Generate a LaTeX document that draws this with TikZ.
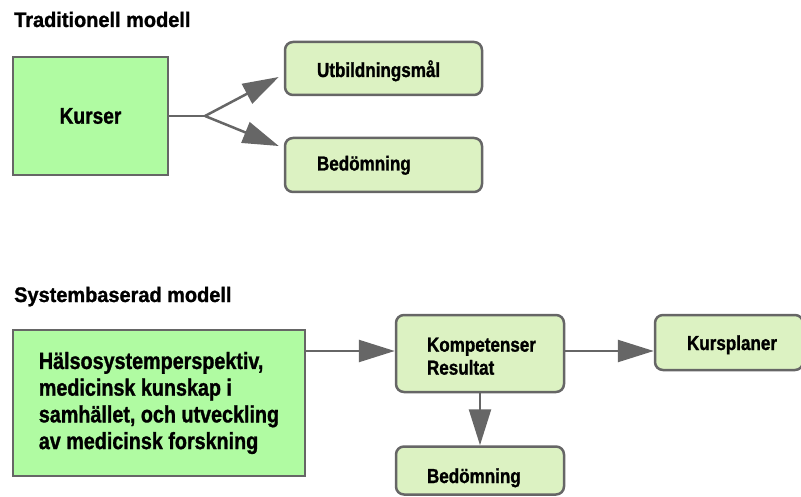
\documentclass[tikz,border=0pt]{standalone}
\usepackage{fontspec}
\usetikzlibrary{arrows.meta,calc}
\newfontfamily\bxfont[FakeStretch=0.84, BoldFeatures={FakeBold=1.2}]{Liberation Sans}
\newfontfamily\ttlfont[FakeStretch=0.95, BoldFeatures={FakeBold=1.2}]{Liberation Sans}
\definecolor{edgegray}{HTML}{666666}
\definecolor{bigfill}{HTML}{B0FBA2}
\definecolor{smallfill}{HTML}{DCF2C2}
\tikzset{
  boxline/.style={draw=edgegray, line width=2.5pt},
  bigbox/.style={boxline, fill=bigfill, rectangle, inner sep=0pt},
  smallbox/.style={boxline, fill=smallfill, rounded corners=8pt, inner sep=0pt,
     font=\bxfont\bfseries\fontsize{20.3}{23}\selectfont, align=left},
  titletext/.style={font=\ttlfont\bfseries\fontsize{21}{24}\selectfont, anchor=base west, inner sep=0pt},
  arr/.style={draw=edgegray, line width=2.5pt, -{Triangle[length=36pt,width=22pt]}},
  conn/.style={draw=edgegray, line width=2.5pt}
}
\begin{document}
\begin{tikzpicture}[x=1pt,y=-1pt]
\useasboundingbox (0,0) rectangle (801,497);
% top section
\node[titletext] (t1) at (14,27) {Traditionell modell};
\node[bigbox, minimum width=155pt, minimum height=118pt,
      font=\bxfont\bfseries\fontsize{22.8}{26}\selectfont] (kurser) at (90.5,116) {Kurser};
\node[smallbox, minimum width=197pt, minimum height=53pt, text width=133pt, text height=21.5pt, text depth=4.5pt] (utb) at (383.5,68.5) {Utbildningsmål};
\node[smallbox, minimum width=197pt, minimum height=54pt, text width=133pt, text height=15.5pt, text depth=4.5pt] (bed1) at (383.5,165) {Bedömning};
\coordinate (fork) at (205,116);
\draw[conn] (kurser.east) -- (fork);
\draw[arr] (fork) -- ([xshift=-5pt,yshift=-8.5pt]utb.west);
\draw[arr] (fork) -- ([xshift=-5pt,yshift=19pt]bed1.west);
% bottom section
\node[titletext] (t2) at (14,302) {Systembaserad modell};
\node[bigbox, minimum width=292pt, minimum height=146pt, inner xsep=22pt, align=left,
      font=\bxfont\bfseries\fontsize{23.5}{26.7}\selectfont] (big) at (159,403)
  {Hälsosystemperspektiv,\\ medicinsk kunskap i\\ samhället, och utveckling\\ av medicinsk forskning};
\node[smallbox, minimum width=168pt, minimum height=77pt, text width=106pt, text height=19.5pt] (komp) at (480,353.5) {Kompetenser\\ Resultat};
\node[smallbox, minimum width=148pt, minimum height=55pt, text width=84pt, text height=19.5pt, text depth=4.5pt] (kurs) at (729,342.5) {Kursplaner};
\node[smallbox, minimum width=168pt, minimum height=48pt, text width=106pt, text height=29.5pt, text depth=4.5pt] (bed2) at (480,470.5) {Bedömning};
\draw[arr] ([yshift=2.5pt]komp.west -| big.east) -- ([yshift=2.5pt]komp.west);
\draw[arr] ([yshift=2.5pt]komp.east) -- ([yshift=2.5pt]komp.east -| kurs.west);
\draw[arr] (komp.south) -- (bed2.north);
\end{tikzpicture}
\end{document}
